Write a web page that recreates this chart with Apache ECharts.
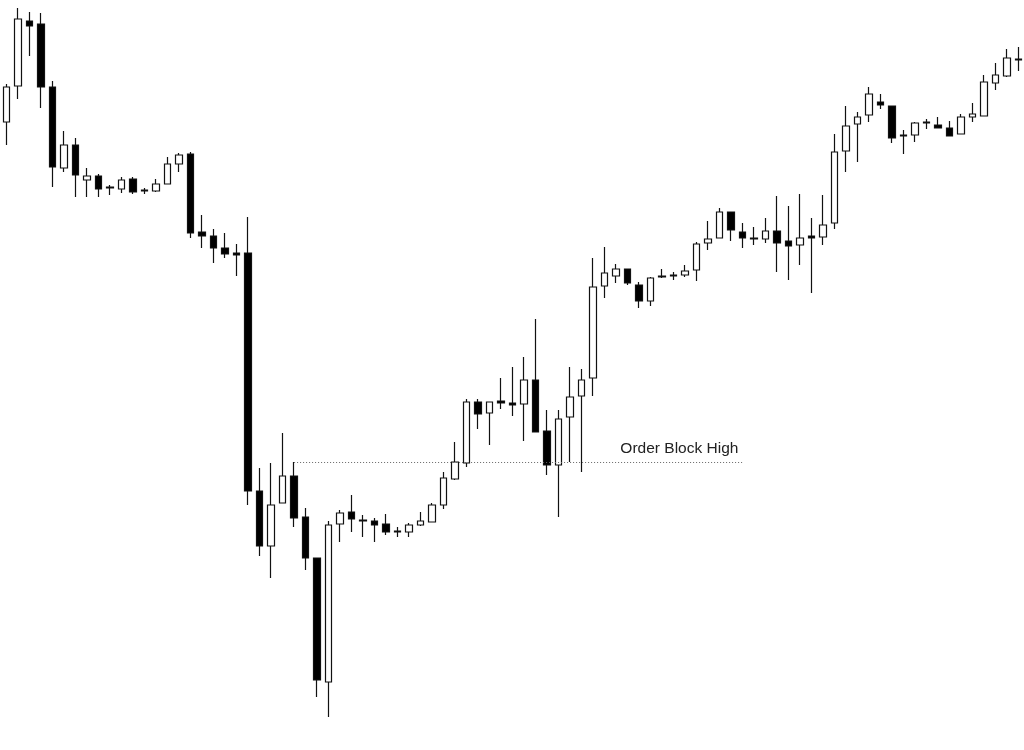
<!DOCTYPE html>
<html>
<head>
<meta charset="utf-8">
<script src="https://cdn.jsdelivr.net/npm/echarts@6/dist/echarts.min.js"></script>
<style>
  html, body { margin: 0; padding: 0; background: #fff; }
  #chart { width: 1024px; height: 750px; }
</style>
</head>
<body>
<div id="chart"></div>
<script>
// prices, one entry per candle
const openVals  = [628,664,729,726,663,582,605,570,574,562,561,571,559,559,566,586,596,518,514,502,497,497,259,204,247,274,233,192,68,226,238,230,229,226,218,218,225,228,245,271,287,348,337,349,347,346,370,319,285,333,354,372,464,474,481,465,449,473,474,475,480,507,512,538,518,512,511,519,509,505,514,513,527,599,626,635,648,644,614,615,627,625,622,616,633,634,667,674,690];
const closeVals = [663,731,724,663,583,605,575,574,561,563,570,558,560,566,586,595,517,514,502,496,495,259,204,245,274,232,192,70,225,237,231,229,225,218,219,225,229,245,272,288,348,336,348,347,345,370,318,285,331,353,370,463,477,481,467,449,472,474,475,479,506,511,538,520,512,511,519,507,504,512,512,525,598,624,633,656,645,612,615,627,628,622,614,633,636,668,675,692,691];
const lowVals   = [605,651,694,642,563,578,553,553,553,555,557,556,556,558,566,578,512,502,487,492,474,245,194,172,247,223,180,53,33,208,218,213,208,215,213,213,224,228,241,270,283,321,305,341,334,309,318,275,233,288,278,354,452,467,465,442,444,472,470,473,469,500,512,509,502,505,507,478,470,485,457,505,521,578,588,628,641,607,596,608,621,622,614,616,628,634,660,673,679];
const highVals  = [666,742,738,737,669,619,612,582,576,565,573,573,562,571,593,597,598,535,521,517,506,533,282,287,317,288,242,192,229,240,255,235,232,236,223,227,238,247,278,308,351,351,348,372,383,393,431,340,340,383,381,492,503,486,481,468,473,481,478,485,508,529,542,538,527,523,532,554,544,556,532,555,616,644,638,663,656,644,620,628,631,633,629,636,647,675,687,701,703];
const categories = openVals.map((_, i) => String(i + 1));

const levelValue = 288;     // dotted "order block" level
const levelFrom = 25;       // candle index where it starts
const levelTo = 64;         // candle index where it ends
const levelText = 'Order Block High';

const candles = openVals.map((o, i) => [o, closeVals[i], lowVals[i], highVals[i]]);

const chart = echarts.init(document.getElementById('chart'));
chart.setOption({
  animation: false,
  backgroundColor: '#fff',
  grid: { left: 1, top: 0, width: 1025, height: 750 },
  xAxis: {
    type: 'category',
    data: categories,
    boundaryGap: true,
    show: false
  },
  yAxis: {
    type: 'value',
    min: 0,
    max: 750,
    show: false,
    splitLine: { show: false }
  },
  series: [{
    type: 'candlestick',
    data: candles,
    barWidth: 7,
    itemStyle: {
      color: '#ffffff',
      color0: '#000000',
      borderColor: '#111111',
      borderColor0: '#111111',
      borderWidth: 1.2
    },
    markLine: {
      silent: true,
      symbol: 'none',
      lineStyle: { color: '#666', type: [1, 2], width: 1 },
      label: {
        show: true,
        position: 'insideEndTop',
        formatter: levelText,
        color: '#222',
        fontFamily: 'Liberation Sans',
        fontSize: 15.5,
        distance: [4, 5]
      },
      data: [[
        { coord: [levelFrom, levelValue] },
        { coord: [levelTo, levelValue] }
      ]]
    }
  }]
});
</script>
</body>
</html>
